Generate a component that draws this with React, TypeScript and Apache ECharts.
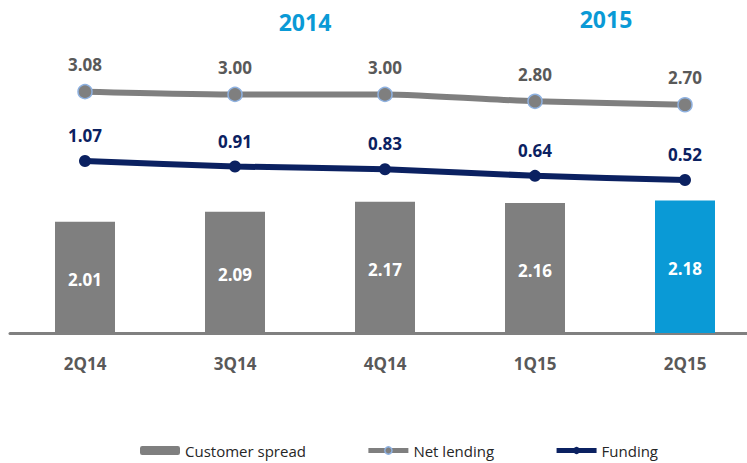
import React, { useEffect, useRef } from "react";
import * as echarts from "echarts";

const categories = ["2Q14", "3Q14", "4Q14", "1Q15", "2Q15"];
const customerSpread = [2.01, 2.09, 2.17, 2.16, 2.18];
const netLending = [3.08, 3.0, 3.0, 2.8, 2.7];
const funding = [1.07, 0.91, 0.83, 0.64, 0.52];
const yearLabels = ["2014", "2015"];

const FONT = "'Open Sans', 'Noto Sans', sans-serif";
const GRAY = "#7f7f7f";
const BLUE = "#0a9ad6";
const NAVY = "#0b2161";

export default function App() {
  const ref = useRef<HTMLDivElement>(null);
  useEffect(() => {
    if (!ref.current) return;
    const chart = echarts.init(ref.current, undefined, { renderer: "svg" });
    const last = customerSpread.length - 1;
    chart.setOption({
      animation: false,
      grid: { left: 10, top: 40, right: 0, height: 293 },
      graphic: [
        {
          type: "text",
          x: 305,
          y: 22,
          style: {
            text: yearLabels[0],
            font: `bold 23px ${FONT}`,
            fill: BLUE,
            textAlign: "center",
            textVerticalAlign: "middle",
          },
        },
        {
          type: "text",
          x: 606,
          y: 19,
          style: {
            text: yearLabels[1],
            font: `bold 23px ${FONT}`,
            fill: BLUE,
            textAlign: "center",
            textVerticalAlign: "middle",
          },
        },
      ],
      legend: {
        left: 135,
        top: 438,
        itemGap: 60,
        itemWidth: 40,
        itemHeight: 9,
        textStyle: { fontFamily: FONT, fontSize: 15, color: "#262626" },
        data: [
          { name: "Customer spread" },
          { name: "Net lending", lineStyle: { width: 5 }, itemStyle: { borderWidth: 1.5 } },
          { name: "Funding", lineStyle: { width: 5 } },
        ],
      },
      xAxis: {
        type: "category",
        data: categories,
        boundaryGap: true,
        axisLine: { onZero: false, lineStyle: { color: "#808080", width: 3 } },
        axisTick: { show: false },
        axisLabel: {
          margin: 22,
          fontFamily: FONT,
          fontSize: 17,
          fontWeight: "bold",
          color: "#595959",
        },
      },
      yAxis: [
        { type: "value", show: false, min: 1.12, max: 3.464, splitLine: { show: false } },
        { type: "value", show: false, min: -3.916, max: 4.577, splitLine: { show: false } },
      ],
      series: [
        {
          name: "Customer spread",
          type: "bar",
          yAxisIndex: 0,
          barWidth: 60,
          itemStyle: { color: GRAY },
          data: customerSpread.map((v, i) =>
            i === last ? { value: v, itemStyle: { color: BLUE } } : v
          ),
          label: {
            show: true,
            position: "inside",
            offset: [0, 2],
            color: "#ffffff",
            fontFamily: FONT,
            fontSize: 17,
            fontWeight: "bold",
            formatter: (p: any) => Number(p.value).toFixed(2),
          },
        },
        {
          name: "Net lending",
          type: "line",
          yAxisIndex: 1,
          smooth: 0.2,
          symbol: "circle",
          symbolSize: 14,
          lineStyle: { color: GRAY, width: 6 },
          itemStyle: { color: GRAY, borderColor: "#8eb1e0", borderWidth: 1.5 },
          data: netLending,
          label: {
            show: true,
            position: "top",
            distance: 11,
            color: "#595959",
            fontFamily: FONT,
            fontSize: 17,
            fontWeight: "bold",
            formatter: (p: any) => Number(p.value).toFixed(2),
          },
        },
        {
          name: "Funding",
          type: "line",
          yAxisIndex: 1,
          smooth: 0.2,
          symbol: "circle",
          symbolSize: 12,
          lineStyle: { color: NAVY, width: 6 },
          itemStyle: { color: NAVY },
          data: funding,
          label: {
            show: true,
            position: "top",
            distance: 11,
            color: NAVY,
            fontFamily: FONT,
            fontSize: 17,
            fontWeight: "bold",
            formatter: (p: any) => Number(p.value).toFixed(2),
          },
        },
      ],
    });
    return () => chart.dispose();
  }, []);
  return (
    <div
      style={{
        position: "fixed",
        left: 0,
        top: 0,
        width: 747,
        height: 463,
        overflow: "hidden",
        background: "#ffffff",
      }}
    >
      <div ref={ref} style={{ width: 760, height: 463 }} />
    </div>
  );
}
